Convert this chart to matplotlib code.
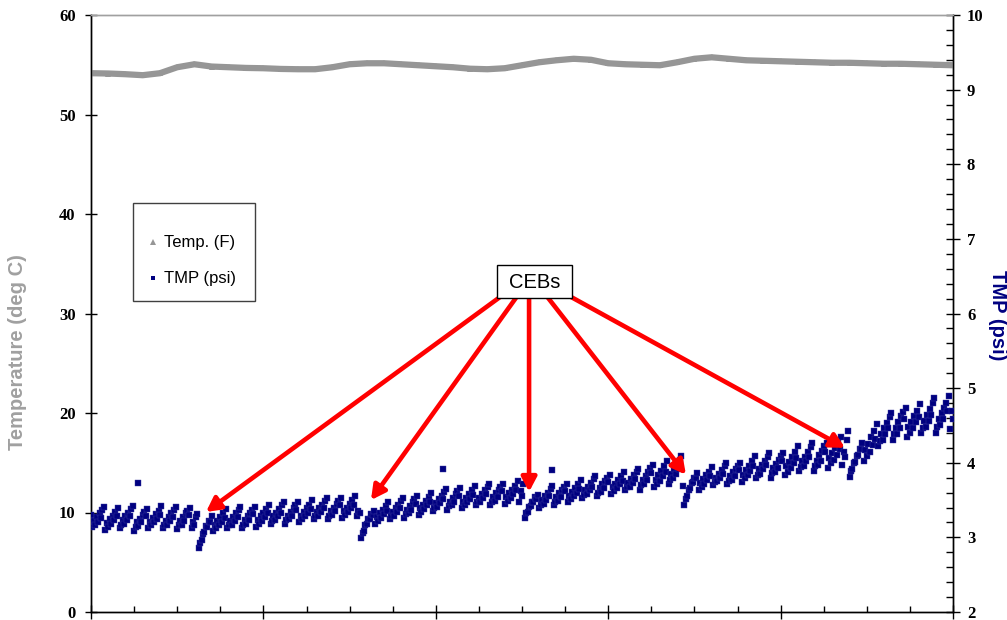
import numpy as np
import matplotlib
matplotlib.use("Agg")
import matplotlib.pyplot as plt
from matplotlib.ticker import MultipleLocator, NullFormatter
from matplotlib.patches import Rectangle
from matplotlib.lines import Line2D
from matplotlib.font_manager import FontProperties

# ---------------- data ----------------
SAMPLES_PER_DAY = 120  # TMP logged every 12 minutes

# TMP (psi), one value per sample; each row is one filtration cycle
tmp_psi = [
    # segment 1
    3.30, 3.14, 3.22, 3.17, 3.27, 3.21, 3.32, 3.26, 3.37, 3.41,
    3.10, 3.19, 3.14, 3.24, 3.18, 3.29, 3.23, 3.34, 3.28, 3.40,
    3.13, 3.17, 3.23, 3.18, 3.28, 3.23, 3.33, 3.28, 3.38, 3.42,
    3.09, 3.14, 3.20, 3.15, 3.25, 3.20, 3.30, 3.34, 3.28, 3.38,
    3.12, 3.21, 3.16, 3.26, 3.20, 3.31, 3.25, 3.36, 3.30, 3.42,
    3.12, 3.16, 3.22, 3.17, 3.27, 3.22, 3.32, 3.27, 3.37, 3.41,
    3.11, 3.16, 3.22, 3.17, 3.27, 3.22, 3.32, 3.36, 3.30, 3.40,
    3.13, 3.21, 3.17, 3.27, 3.31,
    # segment 2 (after CEB 1)
    2.86, 2.93, 2.97, 3.05, 3.07, 3.15, 3.14, 3.22, 3.20, 3.28,
    3.08, 3.17, 3.12, 3.22, 3.16, 3.27, 3.21, 3.32, 3.26, 3.38,
    3.12, 3.16, 3.22, 3.17, 3.27, 3.22, 3.32, 3.27, 3.37, 3.41,
    3.12, 3.17, 3.23, 3.18, 3.28, 3.23, 3.33, 3.37, 3.31, 3.41,
    3.14, 3.23, 3.18, 3.28, 3.22, 3.33, 3.27, 3.38, 3.32, 3.44,
    3.18, 3.22, 3.28, 3.23, 3.33, 3.28, 3.38, 3.33, 3.43, 3.47,
    3.18, 3.23, 3.29, 3.24, 3.34, 3.29, 3.39, 3.43, 3.37, 3.47,
    3.20, 3.29, 3.24, 3.34, 3.28, 3.39, 3.33, 3.44, 3.38, 3.50,
    3.24, 3.28, 3.34, 3.29, 3.39, 3.34, 3.44, 3.39, 3.49, 3.53,
    3.24, 3.29, 3.35, 3.30, 3.40, 3.35, 3.45, 3.49, 3.43, 3.53,
    3.26, 3.35, 3.30, 3.40, 3.34, 3.45, 3.39, 3.50, 3.44, 3.56,
    3.28, 3.36, 3.33,
    # segment 3 (after CEB 2)
    2.99, 3.06, 3.09, 3.16, 3.18, 3.25, 3.24, 3.31, 3.30, 3.36,
    3.18, 3.27, 3.22, 3.32, 3.26, 3.37, 3.31, 3.42, 3.36, 3.48,
    3.24, 3.28, 3.34, 3.29, 3.39, 3.34, 3.44, 3.39, 3.49, 3.53,
    3.26, 3.31, 3.37, 3.32, 3.42, 3.37, 3.47, 3.51, 3.45, 3.55,
    3.30, 3.39, 3.34, 3.44, 3.38, 3.49, 3.43, 3.54, 3.48, 3.60,
    3.36, 3.40, 3.46, 3.41, 3.51, 3.46, 3.56, 3.51, 3.61, 3.65,
    3.37, 3.42, 3.48, 3.43, 3.53, 3.48, 3.58, 3.62, 3.56, 3.66,
    3.39, 3.48, 3.43, 3.53, 3.47, 3.58, 3.52, 3.63, 3.57, 3.69,
    3.43, 3.47, 3.53, 3.48, 3.58, 3.53, 3.63, 3.58, 3.68, 3.72,
    3.43, 3.48, 3.54, 3.49, 3.59, 3.54, 3.64, 3.68, 3.62, 3.72,
    3.45, 3.54, 3.49, 3.59, 3.53, 3.64, 3.58, 3.69, 3.63, 3.76,
    3.47, 3.62, 3.55, 3.72,
    # segment 4 (after CEB 3)
    3.26, 3.33, 3.34, 3.41, 3.42, 3.48, 3.47, 3.54, 3.52, 3.57,
    3.40, 3.44, 3.50, 3.45, 3.55, 3.50, 3.60, 3.55, 3.65, 3.69,
    3.43, 3.48, 3.54, 3.49, 3.59, 3.54, 3.64, 3.68, 3.62, 3.72,
    3.47, 3.56, 3.51, 3.61, 3.55, 3.66, 3.60, 3.71, 3.65, 3.77,
    3.53, 3.57, 3.63, 3.58, 3.68, 3.63, 3.73, 3.68, 3.78, 3.82,
    3.55, 3.60, 3.66, 3.61, 3.71, 3.66, 3.76, 3.80, 3.74, 3.84,
    3.58, 3.67, 3.62, 3.72, 3.66, 3.77, 3.71, 3.82, 3.76, 3.88,
    3.63, 3.67, 3.73, 3.68, 3.78, 3.73, 3.83, 3.78, 3.88, 3.92,
    3.64, 3.70, 3.77, 3.71, 3.82, 3.77, 3.88, 3.93, 3.86, 3.97,
    3.67, 3.77, 3.72, 3.83, 3.76, 3.89, 3.82, 3.95, 3.88, 4.02,
    3.72, 3.77, 3.85, 3.79, 3.91, 3.85, 3.97, 3.91, 4.04, 4.09,
    3.69,
    # segment 5 (after CEB 4)
    3.43, 3.52, 3.56, 3.64, 3.66, 3.73, 3.74, 3.80, 3.80, 3.86,
    3.64, 3.73, 3.68, 3.78, 3.72, 3.83, 3.77, 3.88, 3.82, 3.94,
    3.70, 3.74, 3.80, 3.75, 3.85, 3.80, 3.90, 3.85, 3.95, 3.99,
    3.71, 3.76, 3.82, 3.77, 3.87, 3.82, 3.92, 3.96, 3.90, 4.00,
    3.74, 3.84, 3.79, 3.90, 3.83, 3.96, 3.89, 4.02, 3.95, 4.09,
    3.79, 3.84, 3.91, 3.85, 3.97, 3.91, 4.02, 3.97, 4.08, 4.13,
    3.80, 3.86, 3.93, 3.87, 3.98, 3.93, 4.04, 4.09, 4.02, 4.13,
    3.83, 3.95, 3.88, 4.01, 3.93, 4.08, 4.00, 4.14, 4.06, 4.22,
    3.89, 3.94, 4.02, 3.95, 4.08, 4.02, 4.15, 4.08, 4.21, 4.26,
    3.89, 3.96, 4.03, 3.97, 4.10, 4.03, 4.16, 4.22, 4.14, 4.27,
    3.93, 4.06, 3.99, 4.13, 4.04, 4.20, 4.11, 4.27, 4.18, 4.35,
    3.97, 4.14, 4.08, 4.30, 4.42,
    # segment 6 (after CEB 5)
    3.81, 3.89, 3.91, 3.99, 4.01, 4.09, 4.10, 4.18, 4.19, 4.26,
    4.02, 4.17, 4.09, 4.25, 4.15, 4.34, 4.24, 4.42, 4.32, 4.52,
    4.23, 4.29, 4.38, 4.31, 4.46, 4.38, 4.53, 4.46, 4.61, 4.67,
    4.30, 4.38, 4.47, 4.39, 4.54, 4.47, 4.62, 4.68, 4.59, 4.74,
    4.34, 4.48, 4.40, 4.55, 4.46, 4.63, 4.54, 4.70, 4.61, 4.79,
    4.40, 4.47, 4.56, 4.48, 4.64, 4.56, 4.72, 4.64, 4.80, 4.87,
    4.40, 4.48, 4.58, 4.50, 4.66, 4.58, 4.74, 4.80, 4.70, 4.90,
    4.45, 4.70, 4.58,
]

# isolated TMP readings
tmp_outlier_days = [0.273, 2.042, 2.674]
tmp_outlier_psi = [3.73, 3.92, 3.90]

# temperature, every 0.1 day
temp_days = [i / 10 for i in range(51)]
temp_c = [
    54.15, 54.12, 54.05, 53.95, 54.15, 54.75, 55.05, 54.82, 54.75, 54.68,
    54.65, 54.58, 54.55, 54.55, 54.75, 55.05, 55.15, 55.15, 55.05, 54.95,
    54.85, 54.75, 54.60, 54.55, 54.65, 54.95, 55.25, 55.45, 55.60, 55.50,
    55.15, 55.05, 55.00, 54.95, 55.25, 55.60, 55.75, 55.60, 55.45, 55.40,
    55.35, 55.30, 55.25, 55.20, 55.20, 55.15, 55.10, 55.10, 55.05, 55.00,
    54.95,
]

# CEB annotation: arrow tips (day, psi) and arrow starts at the label box
ceb_tip_days = [0.667, 1.624, 2.541, 3.451, 4.374]
ceb_tip_psi = [3.34, 3.50, 3.61, 3.84, 4.20]
ceb_start_days = [2.372, 2.465, 2.541, 2.651, 2.778]
ceb_start_psi = [6.22, 6.21, 6.21, 6.21, 6.23]

left_ticks = [0, 10, 20, 30, 40, 50, 60]
right_ticks = [2, 3, 4, 5, 6, 7, 8, 9, 10]

# ---------------- styling ----------------
GRAY = "#969696"
NAVY = "#000080"
W, H = 1007, 620

fig = plt.figure(figsize=(W / 100, H / 100), dpi=100)
ax = fig.add_axes([91 / W, 1 - 612 / H, (953 - 91) / W, (612 - 15) / H])
ax2 = ax.twinx()

t_tmp = np.arange(len(tmp_psi)) / SAMPLES_PER_DAY

ax.plot(temp_days, temp_c, color=GRAY, lw=4.5, marker="^", ms=4,
        mew=0, solid_capstyle="butt", zorder=3)
ax2.plot(t_tmp, tmp_psi, ls="none", marker="s", ms=4.3, mew=0.3,
         color=NAVY, mec="#3a3aa0", zorder=3)
ax2.plot(tmp_outlier_days, tmp_outlier_psi, ls="none", marker="s", ms=4.3,
         mew=0.3, color=NAVY, mec="#3a3aa0", zorder=3)

ax.set_xlim(0, 5)
ax.set_ylim(0, 60)
ax2.set_ylim(2, 10)
ax.xaxis.set_major_locator(MultipleLocator(1))
ax.xaxis.set_minor_locator(MultipleLocator(0.25))
ax.xaxis.set_major_formatter(NullFormatter())
ax.set_yticks(left_ticks)
ax2.set_yticks(right_ticks)
ax2.yaxis.set_minor_locator(MultipleLocator(0.2))

tick_fp = FontProperties(family="Liberation Serif", weight="bold", size=12)
for lab in ax.get_yticklabels() + ax2.get_yticklabels():
    lab.set_fontproperties(tick_fp)

ax.tick_params(axis="x", which="major", direction="inout", length=10, width=1)
ax.tick_params(axis="x", which="minor", direction="in", length=4, width=1)
ax.tick_params(axis="y", which="major", direction="inout", length=8, width=1, pad=7)
ax2.tick_params(axis="y", which="major", direction="inout", length=10, width=1, pad=5)
ax2.tick_params(axis="y", which="minor", direction="in", length=5, width=1)

for a in (ax, ax2):
    for s in ("left", "right", "bottom"):
        a.spines[s].set_color("black")
        a.spines[s].set_linewidth(1)
    a.spines["top"].set_color("#a0a0a0")
    a.spines["top"].set_linewidth(1)

fig.text(18 / W, 1 - 352 / H, "Temperature (deg C)", rotation=90,
         ha="center", va="center", color="#a0a0a0", fontsize=14.5,
         fontweight="bold", family="Liberation Sans")
fig.text(997 / W, 1 - 315 / H, "TMP (psi)", rotation=270,
         ha="center", va="center", color=NAVY, fontsize=14.5,
         fontweight="bold", family="Liberation Sans")

# legend box
fig.patches.append(Rectangle((133 / W, 1 - 301 / H), 122 / W, 98 / H,
                             transform=fig.transFigure, fill=True,
                             facecolor="white", edgecolor="#404040", lw=1,
                             zorder=5))
fig.lines.append(Line2D([153 / W], [1 - 242 / H], transform=fig.transFigure,
                        ls="none", marker="^", ms=4, color=GRAY, mew=0, zorder=6))
fig.lines.append(Line2D([153 / W], [1 - 278 / H], transform=fig.transFigure,
                        ls="none", marker="s", ms=3.5, color=NAVY, mew=0, zorder=6))
fig.text(164 / W, 1 - 242 / H, "Temp. (F)", ha="left", va="center",
         fontsize=12, family="Liberation Sans", zorder=6)
fig.text(164 / W, 1 - 278 / H, "TMP (psi)", ha="left", va="center",
         fontsize=12, family="Liberation Sans", zorder=6)

# CEB arrows
for x0, y0, x1, y1 in zip(ceb_start_days, ceb_start_psi, ceb_tip_days, ceb_tip_psi):
    ax2.annotate("", xy=(x1, y1), xytext=(x0, y0),
                 arrowprops=dict(arrowstyle="-|>,head_length=0.85,head_width=0.45",
                                 lw=3.3, color="#ff0000", shrinkA=0, shrinkB=0,
                                 mutation_scale=10),
                 zorder=6)

# CEBs label box
fig.patches.append(Rectangle((497 / W, 1 - 298 / H), 75 / W, 33 / H,
                             transform=fig.transFigure, facecolor="white",
                             edgecolor="black", lw=1, zorder=7))
fig.text(534.5 / W, 1 - 282 / H, "CEBs", ha="center", va="center",
         fontsize=14.5, family="Liberation Sans", zorder=8)

fig.savefig("out.png", dpi=100)
